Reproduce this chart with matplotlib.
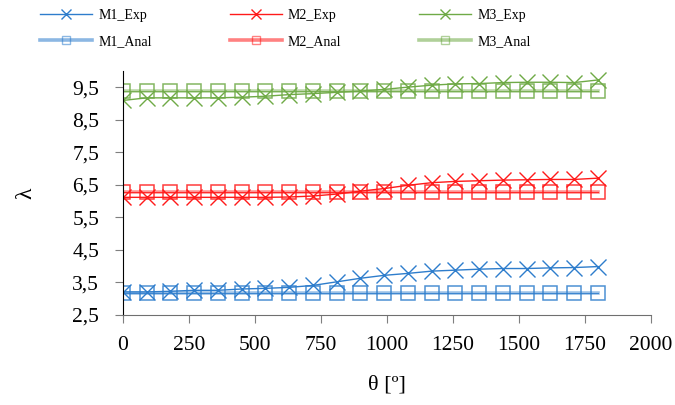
import matplotlib
matplotlib.use("Agg")
import matplotlib.pyplot as plt
from matplotlib.lines import Line2D
from matplotlib.ticker import FuncFormatter, MultipleLocator

theta = [0, 90, 180, 270, 360, 450, 540, 630, 720, 810, 900, 990, 1080,
         1170, 1260, 1350, 1440, 1530, 1620, 1710, 1800]

m1_exp = [3.20, 3.20, 3.22, 3.25, 3.25, 3.29, 3.31, 3.34, 3.40, 3.51, 3.62,
          3.71, 3.77, 3.84, 3.87, 3.90, 3.92, 3.92, 3.94, 3.95, 3.98]
m2_exp = [6.11, 6.11, 6.11, 6.11, 6.11, 6.11, 6.11, 6.12, 6.15, 6.21, 6.30,
          6.38, 6.48, 6.56, 6.60, 6.62, 6.64, 6.65, 6.66, 6.66, 6.70]
m3_exp = [9.09, 9.17, 9.17, 9.17, 9.17, 9.19, 9.22, 9.27, 9.30, 9.34, 9.38,
          9.43, 9.50, 9.56, 9.60, 9.61, 9.64, 9.65, 9.65, 9.64, 9.72]

m1_anal = [3.16] * len(theta)
m2_anal = [6.26] * len(theta)
m3_anal = [9.37] * len(theta)

series = [
    ("M1_Exp", m1_exp, "#2E7DCC", "exp"),
    ("M1_Anal", m1_anal, "#2E7DCC", "anal"),
    ("M2_Exp", m2_exp, "#FF1A1A", "exp"),
    ("M2_Anal", m2_anal, "#FF1A1A", "anal"),
    ("M3_Exp", m3_exp, "#6FAA46", "exp"),
    ("M3_Anal", m3_anal, "#6FAA46", "anal"),
]

plt.rcParams["font.family"] = ["Liberation Serif", "DejaVu Serif"]

fig = plt.figure(figsize=(6.75, 4.05), dpi=100)
ax = fig.add_axes([0.182, 0.223, 0.782, 0.602])

handles = []
for name, vals, color, kind in series:
    if kind == "exp":
        h, = ax.plot(theta, vals, color=color, lw=1.0, marker="x",
                     markersize=12, markeredgewidth=1.0, label=name)
    else:
        # wide pale line under a thin solid one
        ax.plot(theta, vals, color=color, lw=2.6, alpha=0.45)
        ax.plot(theta, vals, color=color, lw=0.8, marker="s", markersize=9.5,
                markerfacecolor="none", markeredgecolor=color,
                markeredgewidth=1.1, alpha=0.85)
        h = Line2D([], [], color=color, lw=2.6, alpha=0.55,
                   marker="s", markerfacecolor="none",
                   markeredgecolor=color, markeredgewidth=1.0,
                   markersize=6, label=name)
    handles.append(h)

ax.set_xlim(0, 2000)
ax.set_ylim(2.5, 10)
ax.xaxis.set_major_locator(MultipleLocator(250))
ax.set_yticks([2.5, 3.5, 4.5, 5.5, 6.5, 7.5, 8.5, 9.5])
ax.yaxis.set_major_formatter(FuncFormatter(lambda v, p: f"{v:.1f}".replace(".", ",")))

for s in ("top", "right"):
    ax.spines[s].set_visible(False)
ax.spines["left"].set_color("black")
ax.spines["bottom"].set_color("#6f6f6f")
ax.tick_params(axis="both", direction="out", length=6, color="#7f7f7f",
               labelsize=15.5)
ax.tick_params(axis="x", pad=9)
ax.tick_params(axis="y", pad=11)

ax.set_xlabel("θ [º]", fontsize=16, labelpad=15)
ax.set_ylabel("λ", fontsize=17, labelpad=26)

leg = fig.legend(handles=handles, loc="upper left",
                 bbox_to_anchor=(40 / 675, 1 - 9 / 405),
                 ncol=3, frameon=False, fontsize=10, handlelength=3.75,
                 columnspacing=5.6, handletextpad=0.45, labelspacing=0.95,
                 borderpad=0, borderaxespad=0)
for lh in leg.legend_handles:
    if lh.get_marker() == "x":
        lh.set_markersize(7)

fig.savefig("out.png", dpi=100)
